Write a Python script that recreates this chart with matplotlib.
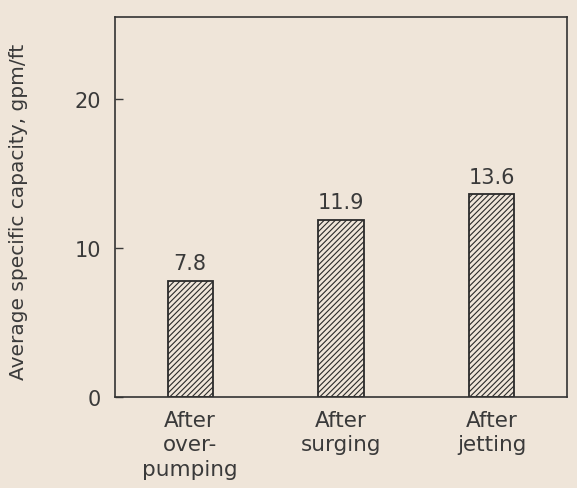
import matplotlib.pyplot as plt
import matplotlib as mpl

# data
categories = ['After\nover-\npumping', 'After\nsurging', 'After\njetting']
capacity = [7.8, 11.9, 13.6]
value_labels = ['7.8', '11.9', '13.6']
y_ticks = [0, 10, 20]

paper = '#efe5d9'
ink = '#3a3a3a'

plt.rcParams['font.family'] = ['DejaVu Sans']
mpl.rcParams['hatch.color'] = '#6a6a6a'
mpl.rcParams['hatch.linewidth'] = 0.8

fig = plt.figure(figsize=(5.77, 4.89), dpi=100)
fig.patch.set_facecolor(paper)
ax = fig.add_axes([0.199, 0.186, 0.784, 0.777])
ax.set_facecolor(paper)

x = range(len(categories))
bars = ax.bar(x, capacity, width=0.3, color=paper, edgecolor='#2a2a2a',
              linewidth=1.3, hatch='//////')

for xi, v, lab in zip(x, capacity, value_labels):
    ax.text(xi, v + 0.5, lab, ha='center', va='bottom', fontsize=15, color=ink)

ax.set_xlim(-0.5, 2.5)
ax.set_ylim(0, 25.5)
ax.set_yticks(y_ticks)
ax.set_yticklabels([str(t) for t in y_ticks], fontsize=15, color=ink)
ax.set_xticks(list(x))
ax.set_xticklabels(categories, fontsize=15.5, color=ink, linespacing=1.3)
ax.tick_params(axis='y', direction='in', length=6, width=1, color=ink, pad=10)
ax.tick_params(axis='x', length=0, pad=9)

for s in ax.spines.values():
    s.set_color('#333333')
    s.set_linewidth(1.2)

ax.set_ylabel('Average specific capacity, gpm/ft', fontsize=14.5, color=ink)
ax.yaxis.set_label_coords(-0.192, 0.49)

fig.savefig('out.png', dpi=100, facecolor=paper)
